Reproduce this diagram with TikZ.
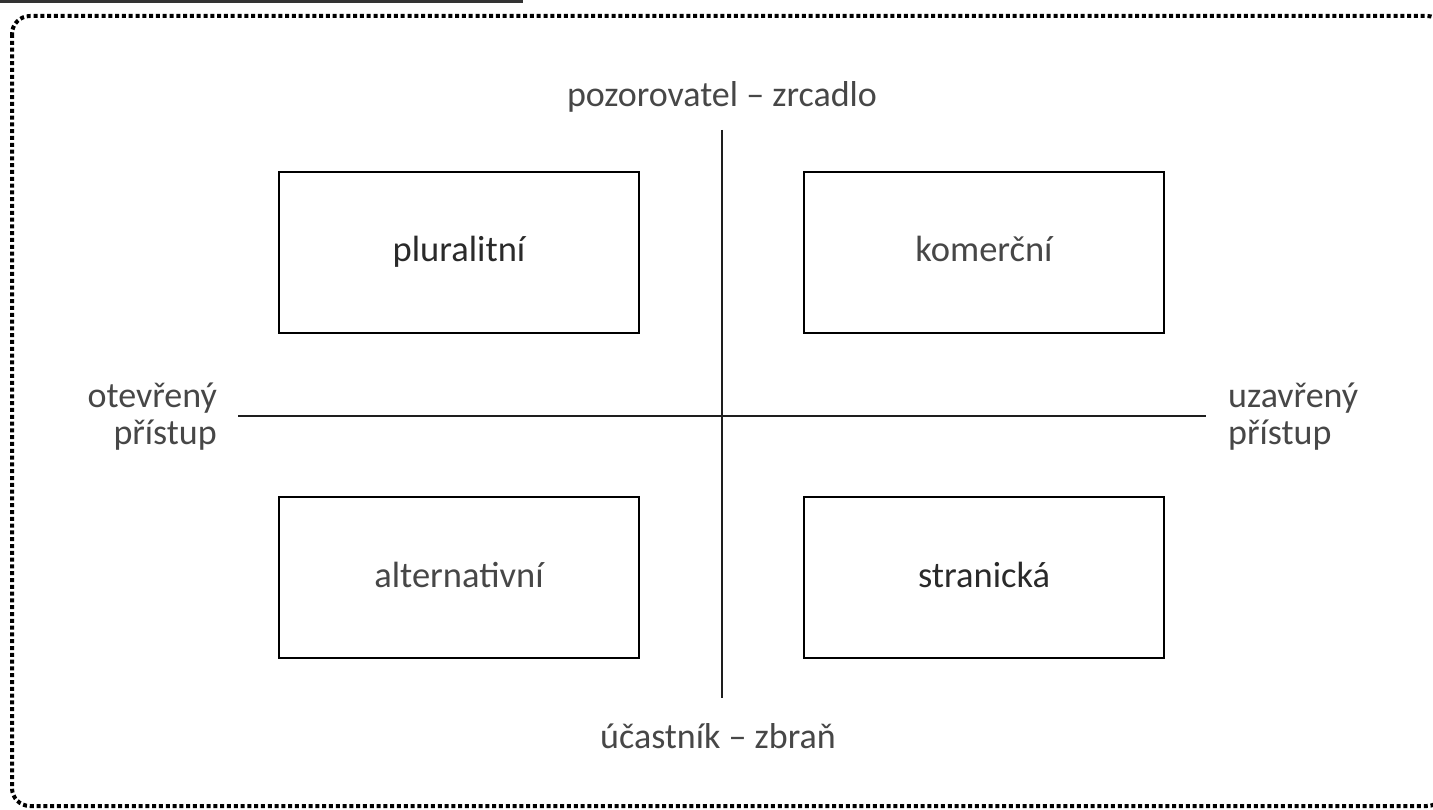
\documentclass[tikz,border=0pt]{standalone}
\usepackage{fontspec}
\setmainfont{Carlito}
\definecolor{txtA}{HTML}{2A2A2A}
\definecolor{txtB}{HTML}{474747}
\definecolor{linec}{HTML}{1E1E1E}
\definecolor{barc}{HTML}{333333}
\begin{document}
\begin{tikzpicture}[x=1pt,y=-1pt,
  quad/.style={draw=black,line width=1.8pt,minimum width=360pt,minimum height=161pt,inner sep=0pt,text height=27pt,text depth=8pt,font=\fontsize{36.5}{40}\selectfont},
  axis/.style={draw=linec,line width=1.8pt},
  lbl/.style={font=\fontsize{36}{37}\selectfont,text=txtB,inner sep=0pt},
  border/.style={draw=black,line width=4pt,dash pattern=on 4pt off 2.8pt,rounded corners=18pt}]
\useasboundingbox (0,0) rectangle (1433,810);
\begin{scope}
\clip (0,0) rectangle (1433,810);
\draw[border] (12,16) rectangle (1445,806);
\fill[barc] (0,0) rectangle (523,3);
\end{scope}
\coordinate (vt) at (722,130);
\coordinate (vb) at (722,698);
\coordinate (hl) at (238,416);
\coordinate (hr) at (1206,416);
\draw[axis] (vt) -- (vb);
\draw[axis] (hl) -- (hr);
\node[quad,text=txtA] (plur) at (459,252.5) {pluralitní};
\node[quad,text=txtB] (kom) at (984,252.5) {komerční};
\node[quad,text=txtB] (alt) at (459,577.5) {alternativní};
\node[quad,text=txtA] (str) at (984,577.5) {stranická};
\node[lbl] (top) at (722,97) {pozorovatel – zrcadlo};
\node[lbl] (bot) at (718,736) {účastník – zbraň};
\node[lbl,align=right,anchor=east] (left) at (217,417) {otevřený\\přístup};
\node[lbl,align=left,anchor=west] (right) at (1228,417) {uzavřený\\přístup};
\end{tikzpicture}
\end{document}
